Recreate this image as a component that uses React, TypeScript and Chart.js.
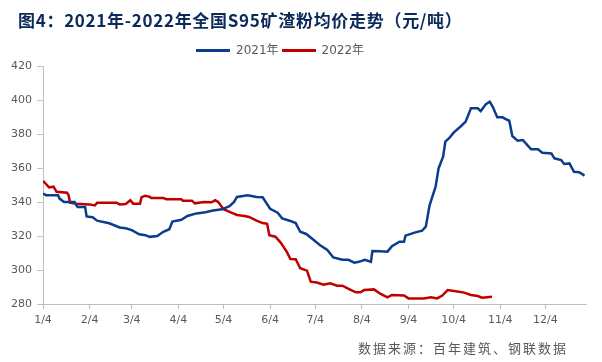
import React, { useEffect, useRef } from "react";
import { Chart, registerables } from "chart.js";

Chart.register(...registerables);

const titleText = "图4：2021年-2022年全国S95矿渣粉均价走势（元/吨）";
const sourceText = "数据来源：百年建筑、钢联数据";
const seriesNames = ["2021年", "2022年"];

// x = days since Jan 4
const tickDays = [0, 31, 59, 90, 120, 151, 181, 212, 243, 273, 304, 334];
const tickLabels = ["1/4", "2/4", "3/4", "4/4", "5/4", "6/4", "7/4", "8/4", "9/4", "10/4", "11/4", "12/4"];

const days2021 = [0, 2, 10, 11, 14, 21, 23, 28, 29, 33, 36, 44, 51, 55, 59, 64, 68, 71, 76, 80, 84, 86, 92, 96, 102, 108, 113, 119, 124, 127, 129, 136, 142, 146, 151, 156, 159, 164, 168, 171, 175, 180, 184, 189, 193, 199, 203, 207, 210, 214, 218, 219, 224, 229, 232, 237, 240, 241, 247, 252, 254.5, 257, 261, 263, 266, 267.5, 270, 273, 278, 281, 284.5, 289, 291, 294.5, 297, 299, 302, 305.5, 308, 310, 312, 315.5, 319, 322, 324.5, 329, 332, 338, 340, 344.5, 346.5, 350, 353, 356.5, 360];
const values2021 = [345, 344, 344, 342, 340, 340, 337, 337, 331.5, 331, 329, 327.5, 325, 324.5, 323.5, 321, 320.5, 319.5, 320, 322.5, 324, 328.5, 329.5, 331.8, 333.3, 334, 335, 335.7, 337.6, 340, 343, 344, 343, 342.8, 336, 333.7, 330.4, 329, 327.6, 322.5, 321.2, 317.6, 314.7, 311.8, 307.4, 306, 306, 304.3, 304.8, 306, 304.8, 311.2, 311, 310.8, 314, 316.6, 316.6, 320.2, 322, 323.1, 325.5, 338, 349, 359.8, 366.7, 375.5, 377.5, 380.8, 384.7, 387.3, 395.1, 395.1, 393.5, 397.6, 399, 396, 389.8, 389.8, 388.6, 387.8, 378.8, 376.1, 376.5, 373.5, 371, 371, 369, 368.6, 365.7, 364.7, 362.4, 362.7, 357.8, 357.5, 355.5];

const days2022 = [0, 2, 4, 7, 9, 16, 17, 18, 22, 31, 34.5, 36, 49, 51, 55, 58, 60, 64.5, 65.5, 68, 71, 72, 80, 82, 92, 93, 99, 101, 107, 112, 114.5, 116.5, 120, 124, 129, 134, 137, 142, 146, 149, 150.5, 154.5, 158, 162, 164.5, 168, 171, 175.5, 178, 182, 186.5, 191, 195.5, 199, 203.5, 208, 211, 213.5, 220, 224.5, 229, 232, 240, 243, 253, 258, 262, 265.5, 269, 275.5, 280, 284.5, 289, 292, 298.5];
const values2022 = [352.4, 350.6, 348.6, 349, 346, 345.5, 344, 339.6, 339, 338.6, 338, 339.6, 339.6, 338.6, 338.8, 341, 339, 339, 342.8, 343.7, 343, 342.3, 342.3, 341.6, 341.6, 340.8, 340.8, 339.2, 340, 339.8, 341, 340, 335.8, 334.2, 332.4, 331.8, 331.2, 329, 327.6, 327.2, 320.5, 319.6, 316.1, 310.8, 306.5, 306.3, 301, 299.6, 293.1, 292.6, 291.3, 292.2, 290.8, 290.8, 288.8, 286.9, 286.9, 288.2, 288.6, 285.9, 283.9, 285.3, 285, 283.3, 283.3, 283.9, 283.3, 285, 288.2, 287.3, 286.7, 285.3, 284.7, 283.7, 284.3];

const colors = ["#0B3D8C", "#C00000"];

export default function App() {
  const ref = useRef<HTMLCanvasElement | null>(null);

  useEffect(() => {
    if (!ref.current) return;
    const toPts = (xs: number[], ys: number[]) => xs.map((x, i) => ({ x, y: ys[i] }));
    const chart = new Chart(ref.current, {
      type: "line",
      data: {
        datasets: [
          { label: seriesNames[0], data: toPts(days2021, values2021), borderColor: colors[0], backgroundColor: colors[0], borderWidth: 2.5, pointRadius: 0, tension: 0 },
          { label: seriesNames[1], data: toPts(days2022, values2022), borderColor: colors[1], backgroundColor: colors[1], borderWidth: 2.5, pointRadius: 0, tension: 0 },
        ],
      },
      options: {
        animation: false,
        responsive: false,
        layout: { padding: { top: 66, right: 16, bottom: 0, left: 0 } },
        plugins: { legend: { display: false }, title: { display: false }, tooltip: { enabled: false } },
        scales: {
          x: {
            type: "linear",
            min: 0,
            max: 361,
            afterBuildTicks: (scale: any) => {
              scale.ticks = tickDays.map((v) => ({ value: v }));
            },
            afterFit: (scale: any) => {
              scale.height = 58;
            },
            ticks: {
              autoSkip: false,
              maxRotation: 0,
              padding: 5,
              color: "#595959",
              font: { family: "DejaVu Sans", size: 11 },
              callback: (v: any) => {
                const i = tickDays.indexOf(Number(v));
                return i >= 0 ? tickLabels[i] : "";
              },
            },
            grid: { drawOnChartArea: false, tickLength: 5, color: "#bfbfbf" },
            border: { color: "#bfbfbf" },
          },
          y: {
            min: 280,
            max: 420,
            afterFit: (scale: any) => {
              scale.width = 43;
            },
            ticks: {
              stepSize: 20,
              padding: 5,
              color: "#595959",
              font: { family: "DejaVu Sans", size: 11 },
            },
            grid: { drawOnChartArea: false, tickLength: 6, color: "#bfbfbf" },
            border: { color: "#bfbfbf" },
          },
        },
      },
    });
    return () => chart.destroy();
  }, []);

  const legendItem = (i: number) => (
    <div style={{ display: "flex", alignItems: "center" }}>
      <span style={{ display: "inline-block", width: 34, height: 3, background: colors[i], marginRight: 6 }} />
      <span style={{ marginRight: 3 }}>{seriesNames[i]}</span>
    </div>
  );

  return (
    <div style={{ position: "fixed", left: 0, top: 0, width: 602, height: 362, background: "#fff" }}>
      <canvas ref={ref} width={602} height={362} style={{ position: "absolute", left: 0, top: 0 }} />
      <div style={{ position: "absolute", left: 18, top: 10, fontFamily: "'Noto Sans CJK SC'", fontWeight: 700, fontSize: 17, lineHeight: "20px", letterSpacing: 0.7, color: "#0B2A5B", whiteSpace: "nowrap" }}>
        {titleText}
      </div>
      <div style={{ position: "absolute", left: 196, top: 42, display: "flex", fontFamily: "'DejaVu Sans', 'Noto Sans CJK SC'", fontSize: 12, lineHeight: "16px", color: "#595959", whiteSpace: "nowrap" }}>
        {legendItem(0)}
        {legendItem(1)}
      </div>
      <div style={{ position: "absolute", left: 358, top: 340, fontFamily: "'Noto Sans CJK SC'", fontSize: 13, lineHeight: "16px", letterSpacing: 2, color: "#595959", whiteSpace: "nowrap" }}>
        {sourceText}
      </div>
    </div>
  );
}
